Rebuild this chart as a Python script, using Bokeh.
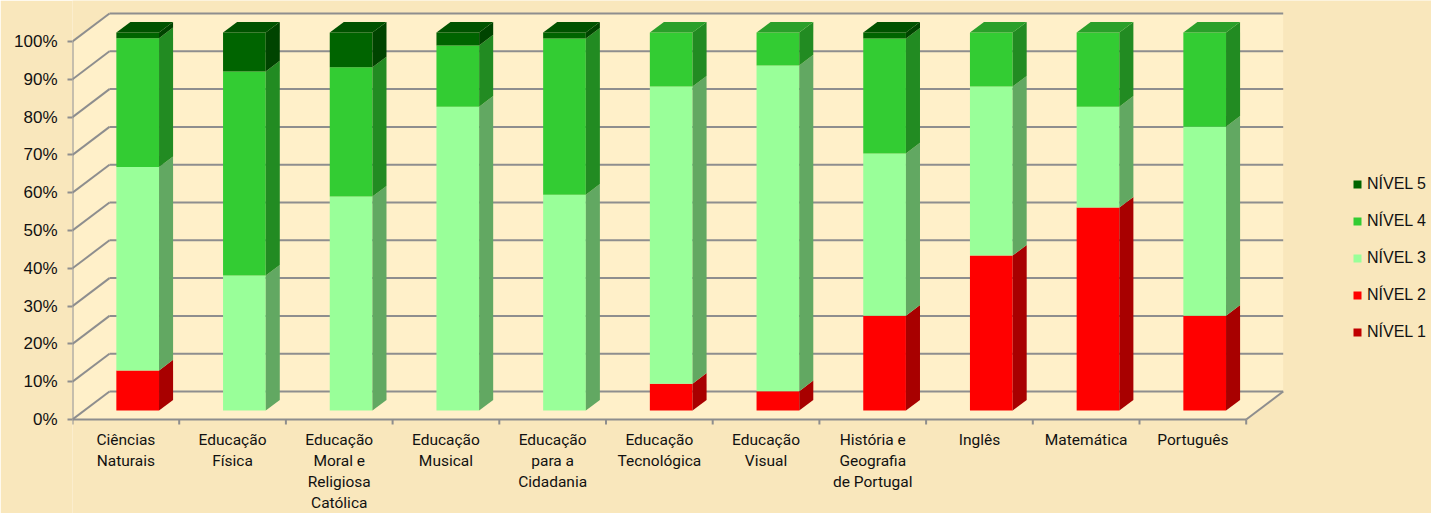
from bokeh.plotting import figure
from bokeh.models import ColumnDataSource, FixedTicker, Legend, LegendItem, Range1d, PrintfTickFormatter
from bokeh.core.properties import value
from bokeh.embed import file_html
from bokeh.resources import INLINE

# ---------------- data ----------------
categories = ["Ciências\nNaturais", "Educação\nFísica", "Educação\nMoral e\nReligiosa\nCatólica",
              "Educação\nMusical", "Educação\npara a\nCidadania", "Educação\nTecnológica",
              "Educação\nVisual", "História e\nGeografia\nde Portugal", "Inglês",
              "Matemática", "Português"]
levels = ["NÍVEL 1", "NÍVEL 2", "NÍVEL 3", "NÍVEL 4", "NÍVEL 5"]
nivel1 = [0, 0, 0, 0, 0, 0, 0, 0, 0, 0, 0]
nivel2 = [10.6, 0, 0, 0, 0, 7.1, 5.1, 25.1, 41.0, 53.7, 25.1]
nivel3 = [53.8, 35.7, 56.6, 80.4, 57.1, 78.6, 86.2, 42.9, 44.7, 26.7, 50.0]
nivel4 = [34.1, 54.0, 34.2, 16.2, 41.3, 14.3, 8.7, 30.4, 14.3, 19.6, 24.9]
nivel5 = [1.5, 10.3, 9.2, 3.4, 1.6, 0, 0, 1.6, 0, 0, 0]
y_ticks = [0, 10, 20, 30, 40, 50, 60, 70, 80, 90, 100]

series = [nivel1, nivel2, nivel3, nivel4, nivel5]
front_colors = ["#C00000", "#FF0000", "#99FF99", "#33CC33", "#006400"]
side_colors = ["#800000", "#A80000", "#62A862", "#228B22", "#004400"]
top_colors = ["#A00000", "#D00000", "#7FD67F", "#2A9F2A", "#005200"]

# ---------------- geometry (pixels -> data units) ----------------
W, H = 1431, 513
LEFT = 72
PX_X = 106.7          # px per category
PX_Y = 3.78           # px per percent
ZERO_Y = 419          # canvas y of 0 %
DX = 37 / PX_X        # depth offset of back wall (x)
DY = 28 / PX_Y        # depth offset of back wall (y)
D1, D2 = 0.32, 0.70   # depth fractions of bar front/back
BAR_W = 0.40
N = len(categories)

x_range = Range1d(0, (W - LEFT) / PX_X)
y_range = Range1d(-(H - ZERO_Y) / PX_Y, 100 + (ZERO_Y - 378) / PX_Y)

p = figure(width=W, height=H, x_range=x_range, y_range=y_range,
           output_backend="svg", toolbar_location=None, x_axis_location=None,
           min_border_left=LEFT, min_border_right=0, min_border_top=0, min_border_bottom=0)
p.xgrid.visible = False
p.ygrid.visible = False
p.outline_line_color = None
p.background_fill_color = "#F9E7BC"
p.border_fill_color = "#F9E7BC"

# chart box (walls) fill
p.patch(x=[0, 0, DX, N + DX, N + DX, N], y=[0, 100, 100 + DY, 100 + DY, DY, 0],
        fill_color="#FFF0C9", line_color=None)

GRID = "#8E8E8E"
# back wall gridlines
p.segment(x0=[DX] * len(y_ticks), y0=[t + DY for t in y_ticks],
          x1=[N + DX] * len(y_ticks), y1=[t + DY for t in y_ticks],
          line_color=GRID, line_width=2)
# left wall diagonals
p.segment(x0=[0] * len(y_ticks), y0=y_ticks,
          x1=[DX] * len(y_ticks), y1=[t + DY for t in y_ticks],
          line_color=GRID, line_width=2)
# floor front, right diagonal, front vertical axis
p.segment(x0=[0, N, 0], y0=[0, 0, 0], x1=[N, N + DX, 0], y1=[0, DY, 100],
          line_color=GRID, line_width=2)
# category boundary ticks
p.segment(x0=list(range(N + 1)), y0=[0] * (N + 1), x1=list(range(N + 1)),
          y1=[-5 / PX_Y] * (N + 1), line_color=GRID, line_width=2)

# ---------------- bars ----------------
front_renderers = []
cum = [0.0] * N
for k, vals in enumerate(series):
    bottoms = cum[:]
    tops = [b + v for b, v in zip(bottoms, vals)]
    src = ColumnDataSource(dict(
        x=[i + 0.5 + D1 * DX for i in range(N)],
        bottom=[b + D1 * DY for b in bottoms],
        top=[t + D1 * DY for t in tops]))
    r = p.vbar(x="x", width=BAR_W, bottom="bottom", top="top", source=src,
               fill_color=front_colors[k], line_color=None)
    front_renderers.append(r)
    xs, ys = [], []
    for i in range(N):
        if vals[i] <= 0:
            continue
        xr = i + 0.5 + BAR_W / 2
        xs.append([xr + D1 * DX, xr + D2 * DX, xr + D2 * DX, xr + D1 * DX])
        ys.append([bottoms[i] + D1 * DY, bottoms[i] + D2 * DY, tops[i] + D2 * DY, tops[i] + D1 * DY])
    if xs:
        p.patches(xs=xs, ys=ys, fill_color=side_colors[k], line_color=None)
    cum = tops

# top faces (colour of topmost non-empty level)
for i in range(N):
    k_top = max(k for k in range(len(series)) if series[k][i] > 0)
    T = cum[i]
    xl = i + 0.5 - BAR_W / 2
    xr = i + 0.5 + BAR_W / 2
    p.patch(x=[xl + D1 * DX, xr + D1 * DX, xr + D2 * DX, xl + D2 * DX],
            y=[T + D1 * DY, T + D1 * DY, T + D2 * DY, T + D2 * DY],
            fill_color=top_colors[k_top], line_color=None)

# ---------------- category labels ----------------
p.text(x=[i + 0.5 for i in range(N)], y=[-11 / PX_Y] * N, text=categories,
       text_align="center", text_baseline="top", text_font=value("Roboto"),
       text_font_size="15.5px", text_line_height=1.18, text_color="#111111")

# ---------------- y axis ----------------
p.yaxis.ticker = FixedTicker(ticks=y_ticks)
p.yaxis.formatter = PrintfTickFormatter(format="%d%%")
p.yaxis.axis_line_color = None
p.yaxis.major_tick_line_color = GRID
p.yaxis.major_tick_line_width = 2
p.yaxis.major_tick_out = 5
p.yaxis.major_tick_in = 0
p.yaxis.minor_tick_line_color = None
p.yaxis.major_label_standoff = 10
p.yaxis.major_label_text_font = "Liberation Sans"
p.yaxis.major_label_text_font_size = "17px"
p.yaxis.major_label_text_color = "#111111"

# ---------------- legend ----------------
items = [LegendItem(label=levels[k], renderers=[front_renderers[k]]) for k in range(4, -1, -1)]
legend = Legend(items=items, location=(1280, 171), glyph_width=10, glyph_height=10,
                label_height=20, spacing=17, padding=0, margin=0, label_standoff=5,
                border_line_color=None, background_fill_alpha=0,
                label_text_font="Liberation Sans", label_text_font_size="16px",
                label_text_color="#111111")
p.add_layout(legend)

open("out.html", "w").write(file_html(p, INLINE))
